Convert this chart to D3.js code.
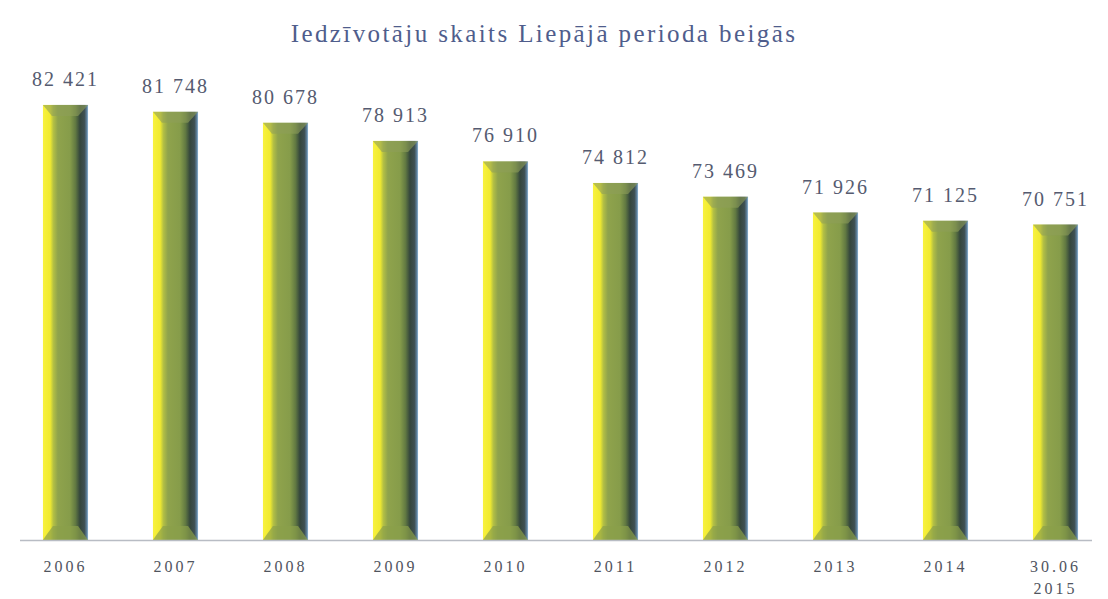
<!DOCTYPE html>
<html>
<head>
<meta charset="utf-8">
<script src="https://cdn.jsdelivr.net/npm/d3@7"></script>
<style>
  body { margin: 0; background: #fff; }
  svg { display: block; }
  text { font-family: "Liberation Serif", "DejaVu Serif", "Times New Roman", serif; }
</style>
</head>
<body>
<div id="chart"></div>
<script>
// Data
var years = ["2006", "2007", "2008", "2009", "2010", "2011", "2012", "2013", "2014", "30.06\n2015"];
var population = [82421, 81748, 80678, 78913, 76910, 74812, 73469, 71926, 71125, 70751];
var valueLabels = ["82 421", "81 748", "80 678", "78 913", "76 910", "74 812", "73 469", "71 926", "71 125", "70 751"];
var chartTitle = "Iedzīvotāju skaits Liepājā perioda beigās";

// SVG dimensions
var svgWidth = 1108;
var svgHeight = 599;
var baseY = 540;

var svg = d3.select("#chart")
    .append("svg")
    .attr("width", svgWidth)
    .attr("height", svgHeight);

var data = years.map(function(y, i) {
    return { year: y, value: population[i], label: valueLabels[i] };
});

// gradient for the bevelled bars
var defs = svg.append("defs");
var grad = defs.append("linearGradient")
    .attr("id", "barGrad")
    .attr("x1", "0%").attr("x2", "100%")
    .attr("y1", "0%").attr("y2", "0%");
[
    ["0%", "#f8f23e"], ["16%", "#f0ea30"], ["23%", "#b4c044"],
    ["33%", "#8fa34c"], ["60%", "#869c4a"], ["72%", "#627a42"],
    ["82%", "#34463c"], ["92%", "#3e5052"], ["97%", "#5d7e98"], ["100%", "#8fb8d8"]
].forEach(function(s) {
    grad.append("stop").attr("offset", s[0]).attr("stop-color", s[1]);
});

// Scales
var xScale = d3.scaleBand()
    .domain(years)
    .range([10.5, 1110.5])
    .paddingInner(0.59)
    .paddingOuter(0.295);

var yScale = d3.scaleLinear()
    .domain([40000, 90000])
    .range([baseY, baseY - 50000 / 97.5]);

// Title
svg.append("text")
    .attr("x", 544)
    .attr("y", 42)
    .attr("text-anchor", "middle")
    .attr("font-size", 25)
    .attr("letter-spacing", 2.4)
    .attr("fill", "#4f5d8c")
    .text(chartTitle);

// Bars
var bw = xScale.bandwidth();
var bars = svg.selectAll(".bar")
    .data(data)
    .enter()
    .append("g")
    .attr("class", "bar")
    .attr("transform", d => `translate(${xScale(d.year)},0)`);

bars.append("rect")
    .attr("x", 0)
    .attr("y", d => yScale(d.value))
    .attr("width", bw)
    .attr("height", d => baseY - yScale(d.value))
    .attr("fill", "url(#barGrad)");

// top bevel
bars.append("path")
    .attr("d", function(d) {
        var t = yScale(d.value);
        return `M0,${t} L${bw},${t} L${bw - 10},${t + 11} L9,${t + 11} Z`;
    })
    .attr("fill", "#8e9f58")
    .attr("opacity", 0.6);

// bottom bevel
bars.append("path")
    .attr("d", `M0,${baseY} Q4,${baseY - 6} 10,${baseY - 14} L${bw - 10},${baseY - 14} L${bw},${baseY} Z`)
    .attr("fill", "#8aa04a")
    .attr("opacity", 0.7);

// Value labels
svg.selectAll(".vlabel")
    .data(data)
    .enter()
    .append("text")
    .attr("class", "vlabel")
    .attr("x", d => xScale(d.year) + bw / 2)
    .attr("y", d => yScale(d.value) - 19)
    .attr("text-anchor", "middle")
    .attr("font-size", 20)
    .attr("letter-spacing", 2)
    .attr("fill", "#555b70")
    .text(d => d.label);

// X axis
var xAxis = svg.append("g")
    .attr("transform", `translate(0, ${baseY})`)
    .call(d3.axisBottom(xScale).tickSize(0).tickFormat(""));

xAxis.select(".domain")
    .attr("d", "M20,0.5H1092")
    .attr("stroke", "#b8bcc4")
    .attr("stroke-width", 1.5);

xAxis.selectAll(".tick").each(function(d) {
    var lines = d.split("\n");
    var t = d3.select(this).append("text")
        .attr("y", 32)
        .attr("text-anchor", "middle")
        .attr("font-size", 16)
        .attr("letter-spacing", 3)
        .attr("fill", "#50545e");
    lines.forEach(function(l, i) {
        t.append("tspan")
            .attr("x", 0)
            .attr("dy", i === 0 ? 0 : 22)
            .text(l);
    });
});
</script>
</body>
</html>
